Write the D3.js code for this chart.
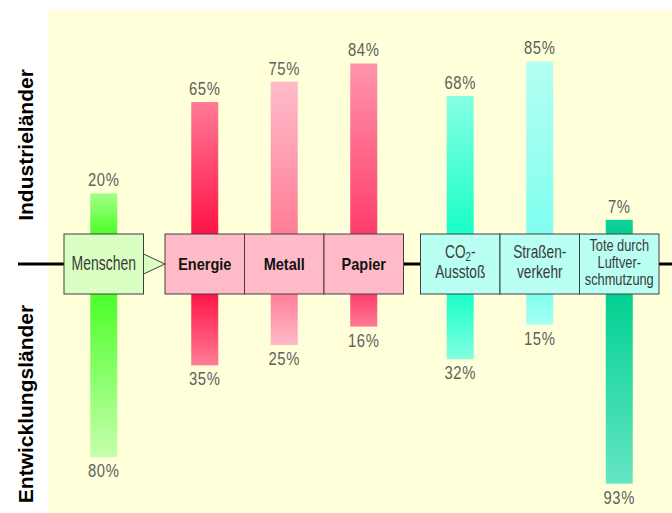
<!DOCTYPE html>
<html>
<head>
<meta charset="utf-8">
<script src="https://cdn.jsdelivr.net/npm/d3@7"></script>
<style>
  html, body { margin: 0; padding: 0; background: #ffffff; }
  #chart { width: 672px; height: 513px; }
</style>
</head>
<body>
<div id="chart"></div>
<script>
const categories = ["Menschen", "Energie", "Metall", "Papier", "CO2-Ausstoß", "Straßenverkehr", "Tote durch Luftverschmutzung"];
const boxLines = [["Menschen"], ["Energie"], ["Metall"], ["Papier"], ["CO₂-", "Ausstoß"], ["Straßen-", "verkehr"], ["Tote durch", "Luftver-", "schmutzung"]];
const groups = [0, 1, 1, 1, 2, 2, 2];
const industrie = [20, 65, 75, 84, 68, 85, 7];
const entwicklung = [80, 35, 25, 16, 32, 15, 93];
const sideLabels = ["Industrieländer", "Entwicklungsländer"];

// colours: box fill, bar colour next to the box, far end up, far end down
const boxFill = ["#d9ffc2", "#ffbac8", "#ffbac8", "#ffbac8", "#b9fff2", "#b9fff2", "#b9fff2"];
const nearCol = ["#4cff2a", "#ff1447", "#ff7d96", "#ff3d6c", "#1affc8", "#80fff0", "#00d090"];
const farUp   = ["#a4ff88", "#ff7a96", "#ffbccb", "#ff94ab", "#85ffe2", "#b3fff2", "#14d197"];
const farDown = ["#c6ffac", "#ff7d95", "#ffbac9", "#ff7a95", "#80ffe0", "#a6fff4", "#66e6c6"];

const width = 672, height = 513;
const svg = d3.select("#chart").append("svg")
  .attr("width", width)
  .attr("height", height)
  .attr("viewBox", `0 0 ${width} ${height}`);

const defs = svg.append("defs");

// background panel
svg.append("rect")
  .attr("x", 48).attr("y", 10)
  .attr("width", width - 48).attr("height", height - 10)
  .attr("fill", "#ffffd9");

// layout
const boxTop = 234, boxBottom = 294, midY = 264;
const gapOffset = [0, 21.5, 38.5];
const slot = d3.scaleLinear().domain([0, 1]).range([0, 79.5]);
const boxX = (i) => 64 + slot(i) + gapOffset[groups[i]];
const boxW = slot(1) - slot(0);
const barW = 27;

const yUp = d3.scaleLinear().domain([0, 100]).range([boxTop, boxTop - 203]);
const yDown = d3.scaleLinear().domain([0, 100]).range([boxBottom, boxBottom + 204]);

const labelFont = "'Liberation Sans', Arial, sans-serif";

// connecting line
const lineSegs = [
  [18, boxX(0)],
  [boxX(3) + boxW, boxX(4)],
  [boxX(6) + boxW, width]
];
svg.selectAll("line.conn")
  .data(lineSegs)
  .enter()
  .append("line")
  .attr("class", "conn")
  .attr("x1", (d) => d[0]).attr("x2", (d) => d[1])
  .attr("y1", midY).attr("y2", midY)
  .attr("stroke", "#000").attr("stroke-width", 3);

// gradients
categories.forEach((c, i) => {
  const up = defs.append("linearGradient").attr("id", `up${i}`)
    .attr("x1", 0).attr("y1", 0).attr("x2", 0).attr("y2", 1);
  up.append("stop").attr("offset", "0%").attr("stop-color", farUp[i]);
  up.append("stop").attr("offset", "100%").attr("stop-color", nearCol[i]);
  const dn = defs.append("linearGradient").attr("id", `dn${i}`)
    .attr("x1", 0).attr("y1", 0).attr("x2", 0).attr("y2", 1);
  dn.append("stop").attr("offset", "0%").attr("stop-color", nearCol[i]);
  dn.append("stop").attr("offset", "100%").attr("stop-color", farDown[i]);
});

const barCx = (i) => boxX(i) + boxW / 2;

// bars up (Industrieländer)
svg.selectAll("rect.up")
  .data(industrie)
  .enter()
  .append("rect")
  .attr("class", "up")
  .attr("x", (d, i) => barCx(i) - barW / 2)
  .attr("y", (d) => yUp(d))
  .attr("width", barW)
  .attr("height", (d) => yUp(0) - yUp(d))
  .attr("fill", (d, i) => `url(#up${i})`);

// bars down (Entwicklungsländer)
svg.selectAll("rect.down")
  .data(entwicklung)
  .enter()
  .append("rect")
  .attr("class", "down")
  .attr("x", (d, i) => barCx(i) - barW / 2)
  .attr("y", yDown(0))
  .attr("width", barW)
  .attr("height", (d) => yDown(d) - yDown(0))
  .attr("fill", (d, i) => `url(#dn${i})`);

// percent labels
function pctLabel(x, y, v) {
  svg.append("text")
    .attr("transform", `translate(${x},${y}) scale(0.78,1)`)
    .attr("text-anchor", "middle")
    .attr("font-family", labelFont)
    .attr("font-size", 19)
    .attr("letter-spacing", 0.8)
    .attr("fill", "#606060")
    .text(`${v}%`);
}
industrie.forEach((v, i) => pctLabel(barCx(i), yUp(v) - 7, v));
entwicklung.forEach((v, i) => pctLabel(barCx(i), yDown(v) + 20, v));

// arrow from Menschen to the resource boxes
const ax0 = boxX(0) + boxW, ax1 = boxX(1);
svg.append("path")
  .attr("d", `M${ax0},${midY - 10}L${ax1},${midY}L${ax0},${midY + 10}Z`)
  .attr("fill", boxFill[0])
  .attr("stroke", "#404040")
  .attr("stroke-width", 1);

// boxes
svg.selectAll("rect.box")
  .data(categories)
  .enter()
  .append("rect")
  .attr("class", "box")
  .attr("x", (d, i) => boxX(i))
  .attr("y", boxTop)
  .attr("width", boxW)
  .attr("height", boxBottom - boxTop)
  .attr("fill", (d, i) => boxFill[i])
  .attr("stroke", "#404040")
  .attr("stroke-width", 1);

// box labels
boxLines.forEach((lines, i) => {
  const bold = groups[i] === 1;
  const n = lines.length;
  const lh = n === 3 ? 17 : 20;
  const size = bold ? 16.5 : (n === 1 ? 20 : n === 2 ? 18 : 16);
  const sx = bold ? 0.88 : (n === 1 ? 0.7 : n === 2 ? 0.76 : 0.8);
  lines.forEach((line, k) => {
    const y = midY + 6 + (k - (n - 1) / 2) * lh - (n > 1 ? 2 : 0);
    const t = svg.append("text")
      .attr("transform", `translate(${barCx(i)},${y}) scale(${sx},1)`)
      .attr("text-anchor", "middle")
      .attr("font-family", labelFont)
      .attr("font-size", size)
      .attr("font-weight", bold ? "bold" : "normal")
      .attr("fill", bold ? "#111" : "#3a3a3a");
    if (line.includes("₂")) {
      const parts = line.split("₂");
      t.append("tspan").text(parts[0]);
      t.append("tspan").attr("font-size", size * 0.7).attr("dy", 3).text("2");
      t.append("tspan").attr("dy", -3).text(parts[1]);
    } else {
      t.text(line);
    }
  });
});

// side labels
const sideY = [145, 404];
sideLabels.forEach((s, i) => {
  svg.append("text")
    .attr("transform", `translate(33,${sideY[i]}) rotate(-90)`)
    .attr("text-anchor", "middle")
    .attr("font-family", labelFont)
    .attr("font-size", 21)
    .attr("font-weight", "bold")
    .attr("fill", "#000")
    .text(s);
});
</script>
</body>
</html>
